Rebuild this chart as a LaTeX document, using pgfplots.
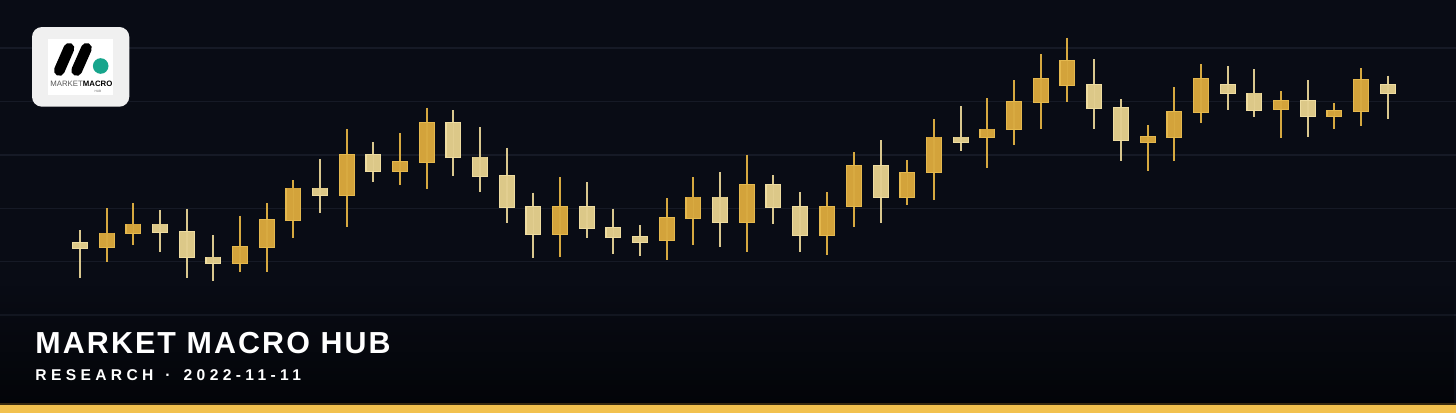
\documentclass[border=0pt]{standalone}
\usepackage{pgfplots}
\pgfplotsset{compat=1.18}
\usepackage{pgfplotstable}
\usepackage{fontspec}
\setmainfont{Liberation Sans}
\usetikzlibrary{fadings}

\definecolor{bgcol}{HTML}{090C15}
\definecolor{gridcol}{HTML}{161A26}
\definecolor{dkfill}{HTML}{D3A33B}
\definecolor{dkedge}{HTML}{E4B84E}
\definecolor{dkwick}{HTML}{D6A940}
\definecolor{ltfill}{HTML}{DCC888}
\definecolor{ltedge}{HTML}{EEDCA0}
\definecolor{ltwick}{HTML}{D9C78E}
\definecolor{goldbar}{HTML}{F2C14E}
\definecolor{goldline}{HTML}{3A2C10}
\definecolor{logobg}{HTML}{F0F0F0}
\definecolor{teal}{HTML}{17A58C}

% pixel positions: wt = wick top, bt = body top, bb = body bottom, wb = wick bottom
\pgfplotstableread{
x wt bt bb wb
106.7 208.3 233.3 247.3 261.7
133.3 203.3 224.3 232.7 245
240 215.7 246.7 263.3 271.7
266.7 203.3 220 246.7 272.3
293.3 180 188.3 220 237.7
346.7 129 155 195 226.7
400 133 162 170.7 185
426.7 107.7 122.7 161.7 189.3
560 177.3 206.7 233.7 256.7
666.7 198.3 217.7 240 260
693.3 177.3 197.3 217.7 245.3
746.7 154.7 185 222.3 252.3
827.3 192.3 206.7 234.7 255
854 152.3 165.7 206 226.7
907.3 160 172.7 196.7 204.7
934 119 137.3 172.3 200
987.3 98.3 129.3 137.3 168.3
1014 80 102 129.3 145
1040.7 54.3 79 101.7 128.7
1067.3 37.7 61 84.7 101.7
1147.7 125 136.7 141.7 170.7
1174.3 87.3 111.7 137 160.7
1201 64 79 111.7 123.3
1281 91 100.7 109.3 138
1334.3 103.3 111 116.3 128.7
1361 68.3 80 111 125.7
}\darkcandles

\pgfplotstableread{
x wt bt bb wb
80 230 242.7 247.7 278
160 210 224.3 231.7 251.7
186.7 208.7 231.7 257.3 277.7
213.3 235 257.3 263.3 281
320 159 188.3 195 212.7
373.3 142.3 155 170.7 182.3
453.3 110 122.7 157.3 176
480 127.3 157.3 175.7 192
506.7 147.7 175.7 207 223.3
533.3 192.7 207 233.7 258.3
586.7 182 206.7 228 238.3
613.3 208.7 228 237 254.3
640 225.3 237 242 256
720 172.3 197.3 222.3 247.3
773.3 175 185 206.7 224.3
800 192.3 206.7 234.7 252.3
880.7 140 165.7 196.7 222.7
960.7 106 137.3 141.7 150.7
1094.3 59.3 85 107.7 129.3
1121 99 107.7 140.3 160.7
1227.7 66 85 93.3 110.3
1254.3 69 93.3 109.7 117
1307.7 80 100.7 116.3 137.3
1387.7 75.7 85 93.3 119
}\lightcandles

\begin{document}
\begin{tikzpicture}
\begin{axis}[
  scale only axis, width=728pt, height=206.5pt,
  xmin=0, xmax=1456, ymin=0, ymax=413, y dir=reverse,
  axis line style={draw=none},
  axis background/.style={fill=bgcol},
  xtick=\empty,
  ytick={48,101.7,155,208.3,261.7,315},
  yticklabels={}, major tick length=0pt,
  ymajorgrids, grid style={draw=gridcol, line width=0.6pt},
  clip=false,
]
% wicks
\addplot[draw=dkwick, line width=1pt, quiver={u=0, v=\thisrow{wb}-\thisrow{wt}}] table[x=x, y=wt] {\darkcandles};
\addplot[draw=ltwick, line width=1pt, quiver={u=0, v=\thisrow{wb}-\thisrow{wt}}] table[x=x, y=wt] {\lightcandles};
% bodies: edge
\addplot[draw=dkedge, line width=8pt, line cap=butt, quiver={u=0, v=\thisrow{bb}-\thisrow{bt}+1.6}] table[x=x, y expr=\thisrow{bt}-0.8] {\darkcandles};
\addplot[draw=ltedge, line width=8pt, line cap=butt, quiver={u=0, v=\thisrow{bb}-\thisrow{bt}+1.6}] table[x=x, y expr=\thisrow{bt}-0.8] {\lightcandles};
% bodies: fill
\addplot[draw=dkfill, line width=6.8pt, line cap=butt, quiver={u=0, v=\thisrow{bb}-\thisrow{bt}}] table[x=x, y=bt] {\darkcandles};
\addplot[draw=ltfill, line width=6.8pt, line cap=butt, quiver={u=0, v=\thisrow{bb}-\thisrow{bt}}] table[x=x, y=bt] {\lightcandles};
% faint wick through body
\addplot[draw=dkedge, opacity=0.35, line width=0.8pt, quiver={u=0, v=\thisrow{bb}-\thisrow{bt}}] table[x=x, y=bt] {\darkcandles};
\addplot[draw=ltedge, opacity=0.35, line width=0.8pt, quiver={u=0, v=\thisrow{bb}-\thisrow{bt}}] table[x=x, y=bt] {\lightcandles};

% bottom darkening
\fill[black, opacity=0.6, path fading=north] (axis cs:0,285) rectangle (axis cs:1456,404);
% bottom gold bar
\fill[goldline] (axis cs:0,403) rectangle (axis cs:1456,405);
\fill[goldbar] (axis cs:0,405) rectangle (axis cs:1456,413);

% title
\node[anchor=base west, inner sep=0pt, text=white,
  font=\bfseries\fontsize{15.2}{18}\selectfont\addfontfeature{LetterSpace=7}]
  at (axis cs:35,353.3) {MARKET MACRO HUB};
\node[anchor=base west, inner sep=0pt, text=white,
  font=\bfseries\fontsize{7.8}{9}\selectfont\addfontfeature{LetterSpace=28}]
  at (axis cs:35,380) {RESEARCH};
\node[anchor=base, inner sep=0pt, text=white,
  font=\bfseries\fontsize{7.8}{9}\selectfont]
  at (axis cs:168,380) {·};
\node[anchor=base west, inner sep=0pt, text=white,
  font=\bfseries\fontsize{7.8}{9}\selectfont\addfontfeature{LetterSpace=28}]
  at (axis cs:183.3,380) {2022-11-11};

% logo
\fill[logobg, rounded corners=5pt] (axis cs:32,27) rectangle (axis cs:129.3,106.7);
\fill[white] (axis cs:48.3,39.3) rectangle (axis cs:113.3,95);
\draw[black, line width=5.4pt, line cap=round] (axis cs:59.3,70.5) -- (axis cs:69,48.3);
\draw[black, line width=5.4pt, line cap=round] (axis cs:76.7,70.5) -- (axis cs:86.5,48.3);
\fill[teal] (axis cs:100.7,66) circle[radius=3.9pt];
\node[anchor=base west, inner sep=0pt, font=\fontsize{3.9}{4}\selectfont]
  at (axis cs:50,86.7) {\textcolor{black!65}{MARKET}\textbf{MACRO}};
\node[anchor=base, inner sep=0pt, text=black!60, font=\fontsize{1.6}{2}\selectfont]
  at (axis cs:98,92.5) {HUB};
\end{axis}
\pgfresetboundingbox
\useasboundingbox (current axis.south west) rectangle (current axis.north east);
\end{tikzpicture}
\end{document}
